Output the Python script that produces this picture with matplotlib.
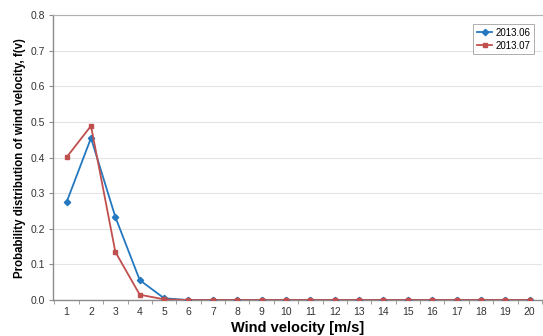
import matplotlib.pyplot as plt
import numpy as np
from matplotlib.ticker import FixedLocator, FormatStrFormatter

plt.rcParams['font.family'] = ['Liberation Sans', 'DejaVu Sans']

speeds = list(range(1, 21))
jun_2013 = [0.275, 0.455, 0.233, 0.056, 0.005] + [0.0] * 15
jul_2013 = [0.401, 0.489, 0.135, 0.015, 0.002] + [0.0] * 15
series_names = ["2013.06", "2013.07"]

blue = "#2378bf"
red = "#c0504d"
gray = "#8c8c8c"

fig = plt.figure(figsize=(5.43, 3.36), dpi=100)
ax = fig.add_axes([0.098, 0.107, 0.9, 0.848])

ax.plot(speeds, jun_2013, color=blue, lw=1.3, marker="D", ms=3.2,
        label=series_names[0], zorder=3)
ax.plot(speeds, jul_2013, color=red, lw=1.3, marker="s", ms=3.4,
        label=series_names[1], zorder=4)

ax.set_xlim(0.45, 20.5)
ax.set_ylim(0, 0.8)
ax.set_xticks(speeds)
ax.xaxis.set_minor_locator(FixedLocator(np.arange(0.5, 20.6, 1)))
ax.tick_params(axis="x", which="major", length=0, labelsize=7.5,
               labelcolor="#333333", pad=5)
ax.tick_params(axis="x", which="minor", length=3, color=gray, direction="out")
ax.set_yticks(np.arange(0, 0.81, 0.1))
ax.yaxis.set_major_formatter(FormatStrFormatter("%.1f"))
ax.tick_params(axis="y", length=3, color=gray, labelsize=7.5,
               labelcolor="#333333", pad=3)

ax.grid(axis="y", color="#e3e3e3", lw=0.8)
ax.set_axisbelow(True)
for side in ["left", "bottom"]:
    ax.spines[side].set_color(gray)
    ax.spines[side].set_linewidth(1.0)
ax.spines["top"].set_color("#b0b0b0")
ax.spines["top"].set_linewidth(0.8)
ax.spines["right"].set_visible(False)

ax.set_xlabel("Wind velocity [m/s]", fontsize=10.5, fontweight="bold")
ax.xaxis.set_label_coords(0.5, -0.075, transform=ax.transAxes)
ax.set_ylabel("Probability distribution of wind velocity, f(v)", fontsize=8.3,
              fontweight="bold")
ax.yaxis.set_label_coords(-0.055, 0.5)

leg = ax.legend(loc="upper right", fontsize=7, frameon=True, fancybox=False,
                handlelength=1.6, handletextpad=0.3, borderpad=0.35,
                labelspacing=0.3, bbox_to_anchor=(0.993, 0.985))
leg.get_frame().set_edgecolor("#999999")
leg.get_frame().set_linewidth(0.7)

fig.savefig("out.png", dpi=100)
